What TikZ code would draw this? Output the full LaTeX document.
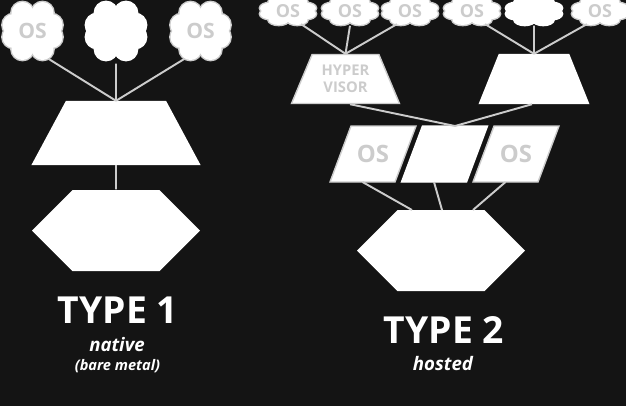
\documentclass[tikz,border=0pt]{standalone}
\usepackage{fontspec}
\setmainfont{Open Sans}
\usetikzlibrary{shapes.symbols,shapes.geometric}
\definecolor{bgdark}{HTML}{141414}
\definecolor{edgegray}{HTML}{CCCCCC}
\tikzset{
  link/.style={edgegray,line width=0.55pt},
  osbig/.style={ellipse,inner sep=0pt,text=edgegray,font=\bfseries\fontsize{6}{6}\selectfont,minimum width=0.60cm,minimum height=0.64cm},
  ossmall/.style={osbig,font=\bfseries\fontsize{5.1}{5.1}\selectfont,minimum width=0.56cm,minimum height=0.28cm},
  hyper/.style={trapezium,trapezium stretches=true,fill=white,draw=edgegray,line width=0.4pt,inner sep=0pt,text=edgegray,align=center,font=\bfseries\fontsize{4.2}{5}\selectfont},
  guest/.style={inner sep=0pt,text=edgegray,font=\bfseries\fontsize{6.8}{6.8}\selectfont,minimum width=0.65cm,minimum height=0.56cm},
  metal/.style={signal,signal to=east and west,signal pointer angle=90,fill=white,inner sep=0pt,minimum width=1.68cm,minimum height=0.81cm},
  title/.style={white,font=\bfseries\fontsize{10.6}{10.6}\selectfont,inner sep=0pt},
  subtitle/.style={white,font=\bfseries\itshape\fontsize{5.3}{5.3}\selectfont,inner sep=0pt}
}
% name, position, xscale, yscale, edge colour, node style, text
\newcommand{\oscloud}[7]{
    \begin{scope}[shift={(#2)},xscale=#3,yscale=#4]
        \foreach \px/\py in {-0.10/0.18,0.10/0.18,0.19/0.06,0.19/-0.06,0.10/-0.18,-0.10/-0.18,-0.19/-0.06,-0.19/0.06}
            \draw[#5,line width=0.8pt] (\px,\py) circle (0.11);
        \foreach \px/\py in {-0.10/0.18,0.10/0.18,0.19/0.06,0.19/-0.06,0.10/-0.18,-0.10/-0.18,-0.19/-0.06,-0.19/0.06}
            \fill[white] (\px,\py) circle (0.11);
        \fill[white] (-0.2,-0.2) rectangle (0.2,0.2);
    \end{scope}
    \node[#6] (#1) at (#2) {#7};
}
% name, position, edge colour, text
\newcommand{\guestbox}[4]{
    \begin{scope}[shift={(#2)}]
        \filldraw[fill=white,draw=#3,line width=0.4pt] (-0.43,-0.28) -- (0.22,-0.28) -- (0.43,0.28) -- (-0.22,0.28) -- cycle;
        \coordinate (#1top) at (0.105,0.28);
        \coordinate (#1bot) at (-0.105,-0.28);
    \end{scope}
    \node[guest] (#1) at (#2) {#4};
}
\begin{document}
\begin{tikzpicture}
    \useasboundingbox (0,-4.06) rectangle (6.26,0);
    \fill[bgdark] (0,-4.06) rectangle (6.26,0);

    % type 1
    \oscloud{osa}{0.325,-0.31}{1}{1}{edgegray}{osbig}{OS}
    \oscloud{osb}{1.16,-0.31}{1}{1}{white}{osbig}{}
    \oscloud{osc}{2.005,-0.31}{1}{1}{edgegray}{osbig}{OS}
    \node[hyper,draw=white,trapezium left angle=58,trapezium right angle=58,minimum width=1.67cm,minimum height=0.63cm] (hva) at (1.16,-1.33) {\phantom{OS}};
    \node[metal] (hwa) at (1.16,-2.305) {};
    \draw[link] (osa.-60) -- (hva.north);
    \draw[link] (osb.south) -- (hva.north);
    \draw[link] (osc.-120) -- (hva.north);
    \draw[link] (hva.south) -- (hwa.north);

    % type 2, guests
    \oscloud{osd}{2.88,-0.11}{0.93}{0.48}{edgegray}{ossmall}{OS}
    \oscloud{ose}{3.50,-0.11}{0.93}{0.48}{edgegray}{ossmall}{OS}
    \oscloud{osf}{4.10,-0.11}{0.93}{0.48}{edgegray}{ossmall}{OS}
    \oscloud{osg}{4.72,-0.11}{0.93}{0.48}{edgegray}{ossmall}{OS}
    \oscloud{osh}{5.34,-0.11}{0.93}{0.48}{white}{ossmall}{}
    \oscloud{osi}{6.00,-0.11}{0.93}{0.48}{edgegray}{ossmall}{OS}

    % type 2, hypervisors
    \node[hyper,trapezium left angle=62.5,trapezium right angle=62.5,minimum width=1.08cm,minimum height=0.49cm] (hvb) at (3.455,-0.79) {HYPER\\VISOR};
    \node[hyper,draw=white,trapezium left angle=62.5,trapezium right angle=62.5,minimum width=1.09cm,minimum height=0.49cm] (hvc) at (5.34,-0.79) {\phantom{OS}};
    \draw[link] (osd.-45) -- (hvb.north);
    \draw[link] (ose.south) -- (hvb.north);
    \draw[link] (osf.-135) -- (hvb.north);
    \draw[link] (osg.-45) -- (hvc.north);
    \draw[link] (osh.south) -- (hvc.north);
    \draw[link] (osi.-135) -- (hvc.north);

    % type 2, host
    \guestbox{hta}{3.73,-1.54}{edgegray}{OS}
    \guestbox{htb}{4.445,-1.54}{white}{}
    \guestbox{htc}{5.16,-1.54}{edgegray}{OS}
    \node[metal] (hwb) at (4.41,-2.505) {};
    \coordinate (hwbl) at (4.12,-2.10);
    \coordinate (hwbm) at (4.42,-2.10);
    \coordinate (hwbr) at (4.73,-2.10);
    \draw[link] ([xshift=0.045cm]hvb.south) -- (htbtop);
    \draw[link] ([xshift=-0.02cm]hvc.south) -- (htbtop);
    \draw[link] (htabot) -- (hwbl);
    \draw[link] (htbbot) -- (hwbm);
    \draw[link] (htcbot) -- (hwbr);

    % labels
    \node[title] (tta) at (1.18,-3.10) {TYPE 1};
    \node[subtitle] (sta) at (1.17,-3.45) {native};
    \node[subtitle,font=\bfseries\itshape\fontsize{4.15}{4.15}\selectfont] (stb) at (1.175,-3.66) {(bare metal)};
    \node[title] (ttb) at (4.44,-3.30) {TYPE 2};
    \node[subtitle] (stc) at (4.43,-3.64) {hosted};
\end{tikzpicture}
\end{document}
